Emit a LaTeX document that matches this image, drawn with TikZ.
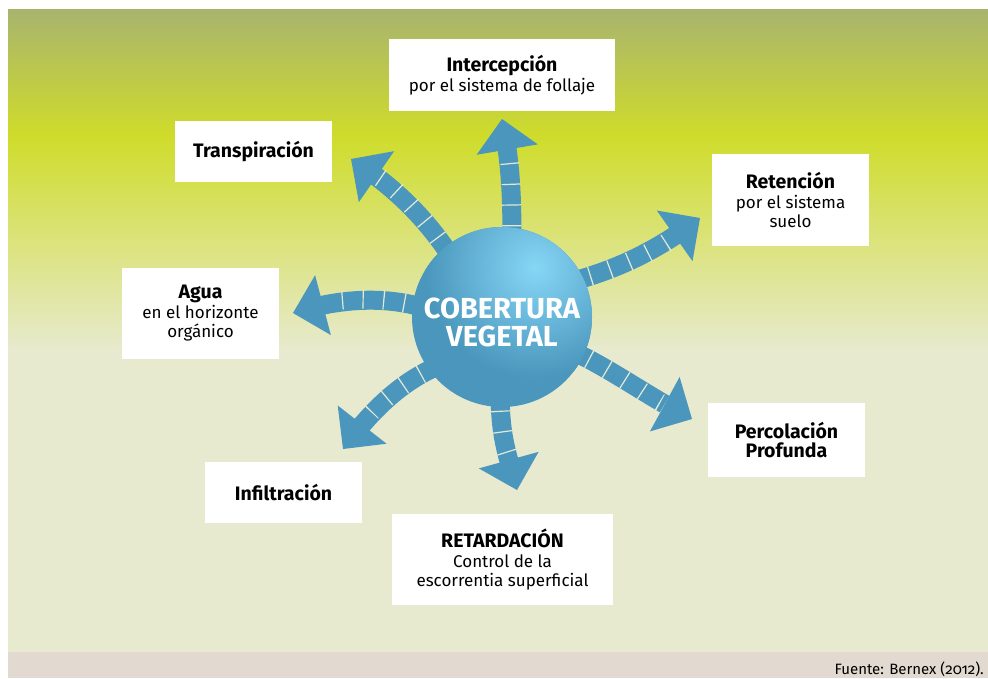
\documentclass[tikz,border=0pt]{standalone}
\usepackage{fontspec}
\setmainfont{Fira Sans}
\usetikzlibrary{arrows.meta,bending,calc}

\definecolor{cvblue}{HTML}{4A96BC}
\definecolor{cvlight}{HTML}{86D6F6}
\definecolor{bgtop}{HTML}{A8B46E}
\definecolor{bglime}{HTML}{CFDC2A}
\definecolor{bgpale}{HTML}{E7EACE}
\definecolor{bgfoot}{HTML}{E2DAD0}
\definecolor{tickcol}{HTML}{E2EAD6}

\newcommand{\boxtitle}[1]{{\bfseries\fontsize{19.5}{20}\selectfont #1}}

\tikzset{
  box/.style={fill=white, minimum width=157pt, minimum height=#1, align=center,
    inner sep=0pt, font=\fontsize{17}{19.5}\selectfont},
  box/.default=61pt,
  flow/.style={draw=cvblue, line width=19pt,
    -{Triangle[length=31pt,width=62pt,line width=0pt]}},
  ticks/.style={draw=tickcol, line width=19pt, dash pattern=on 1.2pt off 19.5pt,
    shorten >=33pt},
  hub/.style={text=white, align=center, inner sep=0pt,
    font=\bfseries\fontsize{29}{28}\selectfont},
}

\begin{document}
\begin{tikzpicture}[x=1pt,y=-1pt]
  % canvas and background
  \fill[white] (0,0) rectangle (988,678);
  \useasboundingbox (0,0) rectangle (988,678);
  \shade[top color=bgtop, bottom color=bglime] (8,9) rectangle (988,136);
  \shade[top color=bglime, bottom color=bgpale] (8,135) rectangle (988,350);
  \fill[bgpale] (8,349) rectangle (988,652);
  \fill[bgfoot] (8,652) rectangle (988,678);

  \coordinate (c) at (502,317);

  % tips of the arrows
  \coordinate (t1) at (502,119);
  \coordinate (t2) at (351,159);
  \coordinate (t3) at (700,218);
  \coordinate (t4) at (293,313);
  \coordinate (t5) at (343,449);
  \coordinate (t6) at (517,490);
  \coordinate (t7) at (692,419);

  % arrows
  \draw[flow] ($(c)+(10,-70)$) .. controls (512,195) and (511,165) .. (t1);
  \draw[ticks] ($(c)+(10,-70)$) .. controls (512,195) and (511,165) .. (t1);

  \draw[flow] ($(c)+(-52,-62)$) .. controls (430,225) and (400,190) .. (t2);
  \draw[ticks] ($(c)+(-52,-62)$) .. controls (430,225) and (400,190) .. (t2);

  \draw[flow] ($(c)+(68,-35)$) .. controls (615,270) and (655,252) .. (t3);
  \draw[ticks] ($(c)+(68,-35)$) .. controls (615,270) and (655,252) .. (t3);

  \draw[flow] ($(c)+(-77,-9)$) .. controls (385,296) and (340,298) .. (t4);
  \draw[ticks] ($(c)+(-77,-9)$) .. controls (385,296) and (340,298) .. (t4);

  \draw[flow] ($(c)+(-62,48)$) .. controls (405,380) and (375,405) .. (t5);
  \draw[ticks] ($(c)+(-62,48)$) .. controls (405,380) and (375,405) .. (t5);

  \draw[flow] ($(c)+(-2,73)$) .. controls (500,440) and (508,455) .. (t6);
  \draw[ticks] ($(c)+(-2,73)$) .. controls (500,440) and (508,455) .. (t6);

  \draw[flow] ($(c)+(68,33)$) .. controls (610,368) and (650,398) .. (t7);
  \draw[ticks] ($(c)+(68,33)$) .. controls (610,368) and (650,398) .. (t7);

  % central circle
  \fill[cvblue] (c) circle (90);
  \begin{scope}
    \clip (c) circle (90);
    \shade[inner color=cvlight, outer color=cvblue] (535,268) circle (110);
  \end{scope}
  \node[hub] (cv) at (502,322) {COBERTURA\\VEGETAL};

  % boxes
  \node[box=72pt, minimum width=226pt] (icp) at (502,75)
    {\boxtitle{Intercepción}\\por el sistema de follaje};
  \node[box] (tra) at (253.5,151.5) {\boxtitle{Transpiración}};
  \node[box=92pt] (ret) at (790.5,200)
    {\boxtitle{Retención}\\por el sistema\\suelo};
  \node[box=91pt] (agu) at (200.5,313.5)
    {\boxtitle{Agua}\\en el horizonte\\orgánico};
  \node[box=74pt] (per) at (786.5,440)
    {\boxtitle{Percolación}\\\boxtitle{Profunda}};
  \node[box] (inf) at (283.5,492.5) {\boxtitle{Infiltración}};
  \node[box=91pt, minimum width=221pt] (rtd) at (502.5,559.5)
    {\boxtitle{RETARDACIÓN}\\Control de la\\escorrentia superficial};

  % source
  \node[anchor=base east, inner sep=0pt,
    font={\fontsize{15}{17}\selectfont\addfontfeatures{Numbers=OldStyle}}]
    (src) at (984,674) {Fuente: Bernex (2012).};
\end{tikzpicture}
\end{document}
